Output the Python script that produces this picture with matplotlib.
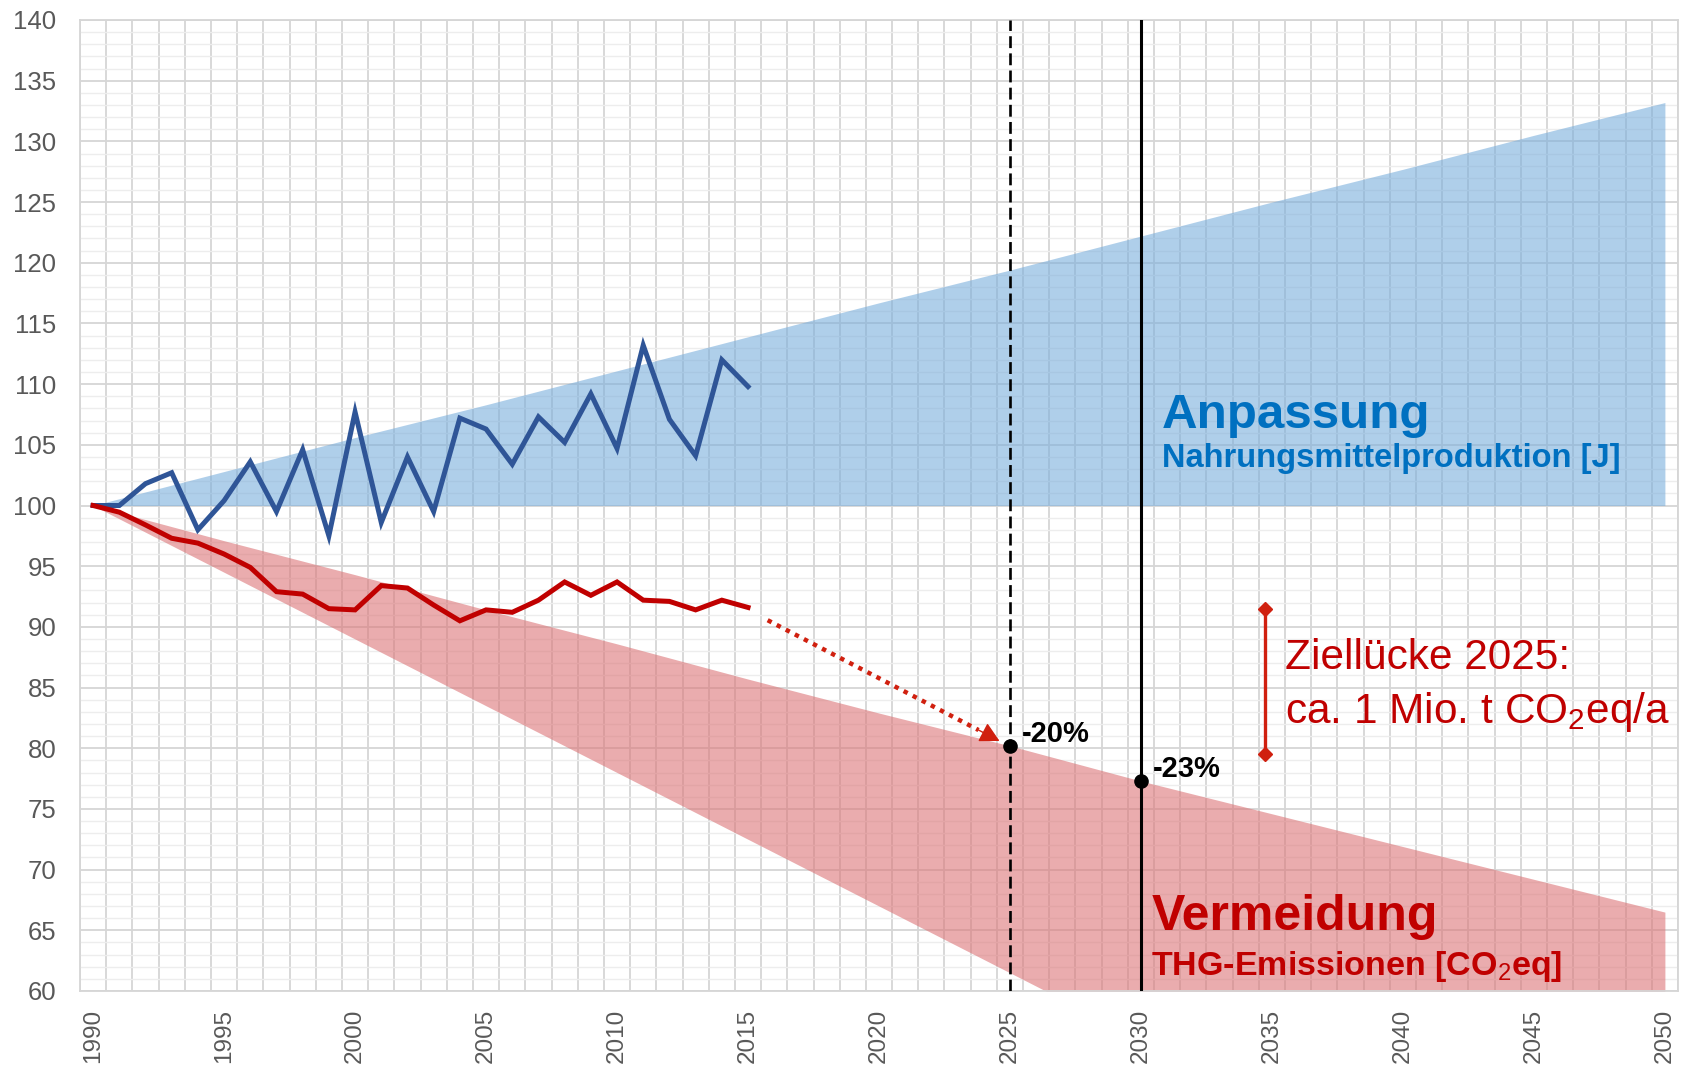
import matplotlib
matplotlib.use('Agg')
import matplotlib.pyplot as plt
import numpy as np

plt.rcParams['font.family'] = ['Liberation Sans', 'DejaVu Sans']
plt.rcParams['mathtext.fontset'] = 'custom'
plt.rcParams['mathtext.rm'] = 'Liberation Sans'
plt.rcParams['mathtext.bf'] = 'Liberation Sans:bold'

# ---- data ----
years_obs = list(range(1990, 2016))
food_production = [100, 100, 101.8, 102.7, 98.0, 100.4, 103.6, 99.5, 104.6, 97.5,
                   107.7, 98.6, 104.0, 99.5, 107.2, 106.3, 103.4, 107.3, 105.2, 109.2,
                   104.7, 113.2, 107.1, 104.1, 112.0, 109.8]
ghg_emissions = [100, 99.45, 98.4, 97.3, 96.9, 96.0, 94.9, 92.9, 92.7, 91.5,
                 91.4, 93.4, 93.2, 91.8, 90.5, 91.4, 91.2, 92.2, 93.7, 92.6,
                 93.7, 92.2, 92.1, 91.4, 92.2, 91.6]

band_years = [1990, 1995, 2000, 2005, 2010, 2015, 2020, 2025, 2030, 2035, 2040, 2045, 2050]
adapt_base = [100] * 13
adapt_upper = [100.0, 102.8, 105.6, 108.3, 111.1, 113.9, 116.7, 119.4, 122.2, 125.0, 127.7, 130.5, 133.2]
mitig_upper = [100.0, 97.1, 94.3, 91.4, 88.6, 85.7, 82.9, 80.2, 77.3, 74.6, 71.9, 69.2, 66.5]
mitig_lower = [100.0, 94.5, 89.0, 83.5, 78.0, 72.5, 67.0, 61.5, 56.0, 50.5, 45.0, 39.5, 34.0]

target_years = [2025, 2030]
target_values = [80.2, 77.3]
target_labels = ['-20%', '-23%']

gap_year = 2034.73
gap_range = [79.55, 91.47]

arrow_start = (2015.75, 90.55)
arrow_mid = (2023.8, 81.5)
arrow_end = (2024.6, 80.6)

x_ticks = list(range(1990, 2051, 5))
y_ticks = list(range(60, 141, 5))

# ---- colours ----
BLUE_LINE = '#2F5597'
RED_LINE = '#C00000'
BLUE_TXT = '#0070C0'
RED_TXT = '#C00000'
ARROW_RED = '#D0200F'
GRID = '#D6D6D6'
GRID_MINOR = '#EDEDED'
TICK_TXT = '#595959'

fig = plt.figure(figsize=(16.94, 10.73), dpi=100)
ax = fig.add_axes([80 / 1694, 1 - 991 / 1073, (1678 - 80) / 1694, (991 - 20) / 1073])

ax.set_xlim(1989.5, 2050.5)
ax.set_ylim(60, 140)

ax.set_xticks(x_ticks)
ax.set_xticks(np.arange(1989.5, 2050.6, 1), minor=True)
ax.set_yticks(y_ticks)
ax.set_yticks(np.arange(60, 141, 1), minor=True)
ax.set_axisbelow(True)
ax.xaxis.grid(True, which='minor', color=GRID, lw=1.3)
ax.xaxis.grid(False, which='major')
ax.yaxis.grid(True, which='minor', color=GRID_MINOR, lw=1.0)
ax.yaxis.grid(True, which='major', color=GRID, lw=1.3)
ax.tick_params(which='both', length=0)
ax.tick_params(axis='x', pad=13, labelsize=17.5, labelcolor=TICK_TXT, labelrotation=90)
ax.tick_params(axis='y', pad=17, labelsize=18.5, labelcolor=TICK_TXT)
for s in ax.spines.values():
    s.set_color(GRID)
    s.set_linewidth(1.3)

# bands
ax.fill_between(band_years, adapt_base, adapt_upper, color='#7BAFDC', alpha=0.6, lw=0, zorder=1)
ax.fill_between(band_years, mitig_lower, mitig_upper, color='#DC7578', alpha=0.6, lw=0, zorder=1)

# observed series
ax.plot(years_obs, food_production, color=BLUE_LINE, lw=3.6, zorder=4, solid_joinstyle='miter')
ax.plot(years_obs, ghg_emissions, color=RED_LINE, lw=3.6, zorder=4, solid_joinstyle='miter')

# vertical target lines
ax.axvline(target_years[0], color='black', lw=1.9, ls=(0, (4.5, 2.0)), zorder=5)
ax.axvline(target_years[1], color='black', lw=2.2, zorder=5)
ax.plot(target_years, target_values, 'o', color='black', ms=9.5, zorder=6, ls='none')
for yr, val, lab in zip(target_years, target_values, target_labels):
    ax.text(yr + 0.45, val + 0.3, lab, fontsize=21, fontweight='bold', color='black',
            ha='left', va='baseline', zorder=7)

# dotted arrow: dotted shaft + solid head
ax.plot([arrow_start[0], arrow_mid[0]], [arrow_start[1], arrow_mid[1]], color=ARROW_RED,
        lw=3.2, ls=(0, (1, 1.3)), dash_capstyle='butt', zorder=6)
ax.annotate('', xy=arrow_end, xytext=arrow_mid,
            arrowprops=dict(arrowstyle='-|>,head_length=0.75,head_width=0.4', color=ARROW_RED,
                            lw=1.0, shrinkA=0, shrinkB=0, mutation_scale=16), zorder=6)

# gap bracket
ax.plot([gap_year, gap_year], gap_range, color=ARROW_RED, lw=2.4, zorder=5)
ax.plot([gap_year, gap_year], gap_range, 'D', color=ARROW_RED, ms=7.5, zorder=5, ls='none')
ax.text(2035.5, 86.5, 'Ziellücke 2025:', fontsize=30.5, color=RED_TXT, ha='left', va='baseline', zorder=7)
ax.text(2035.5, 82.1, 'ca. 1 Mio. t CO$_2$eq/a', fontsize=30.5, color=RED_TXT, ha='left', va='baseline', zorder=7)

# band labels
ax.text(2030.8, 106.4, 'Anpassung', fontsize=35.5, fontweight='bold', color=BLUE_TXT,
        ha='left', va='baseline', zorder=7)
ax.text(2030.8, 103.2, 'Nahrungsmittelproduktion [J]', fontsize=23.5, fontweight='bold', color=BLUE_TXT,
        ha='left', va='baseline', zorder=7)
ax.text(2030.4, 65.0, 'Vermeidung', fontsize=36, fontweight='bold', color=RED_TXT,
        ha='left', va='baseline', zorder=7)
ax.text(2030.4, 61.3, 'THG-Emissionen [CO$_2$eq]', fontsize=24.5, fontweight='bold', color=RED_TXT,
        ha='left', va='baseline', zorder=7)

fig.savefig('out.png', dpi=100)
